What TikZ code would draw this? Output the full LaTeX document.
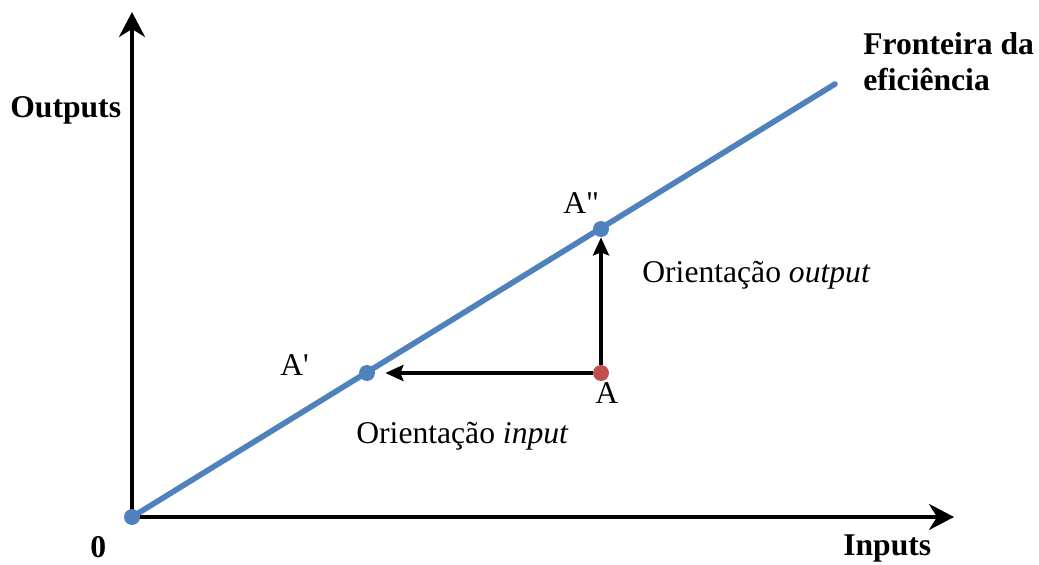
\documentclass[tikz,border=0pt]{standalone}
\usepackage{fontspec}
\setmainfont{Liberation Serif}[Ligatures=TeXOff]
\usetikzlibrary{positioning,arrows.meta,backgrounds}
\definecolor{frontcolor}{RGB}{79,129,189}
\definecolor{pointcolor}{RGB}{192,80,77}

\begin{document}
\begin{tikzpicture}[
  x=0.02cm, y=-0.02cm,
  axis/.style={-{Stealth[length=5mm,width=5.2mm,inset=1.6mm]},line width=2pt},
  orient/.style={-{Stealth[length=3.6mm,width=3.2mm,inset=0.6mm]},line width=2.7pt},
  front/.style={draw=frontcolor,line width=3.2pt,line cap=round},
  dot/.style={circle,fill=frontcolor,inner sep=0,minimum size=3.2mm},
  lbl/.style={font=\fontsize{18}{20}\selectfont,anchor=base west,inner sep=0},
  boldlbl/.style={lbl,font=\fontsize{18}{20}\selectfont\bfseries,align=left},
]
\useasboundingbox (0,0) rectangle (1039,565);

% --- AXES ENDS ---
\coordinate (ytop) at (132,12);
\coordinate (xend) at (954,517);
\coordinate (fend) at (835,84);

% --- POINTS ---
\node[dot] (p0) at (132,517) {};
\node[dot] (pa1) at (367,373) {};
\node[dot] (pa2) at (601,229) {};
\node[dot,fill=pointcolor] (pa) at (601,373) {};

% --- AXES + FRONTIER ---
\begin{scope}[on background layer]
  \draw[axis] (p0.center) -- (ytop);
  \draw[axis] (p0.center) -- (xend);
  \draw[front] (p0.center) -- (fend);
\end{scope}

% --- ORIENTATION ARROWS ---
\draw[orient] (pa) -- (pa2);
\draw[orient,shorten >=2mm] (pa) -- (pa1);

% --- LABELS ---
\node[boldlbl] (ylabel) at (10,117) {Outputs};
\node[boldlbl] (xlabel) at (843,555) {Inputs};
\node[boldlbl] (zero) at (90,557) {0};
\node[boldlbl] (frontlabel) at (863,90) {Fronteira da\\eficiência};
\node[lbl] (la2) at (563,213) {A"};
\node[lbl] (la1) at (280,375) {A'};
\node[lbl] (la) at (595,403) {A};
\node[lbl] (outlabel) at (642,282) {Orientação \textit{output}};
\node[lbl] (inlabel) at (356,443) {Orientação \textit{input}};

\end{tikzpicture}
\end{document}
